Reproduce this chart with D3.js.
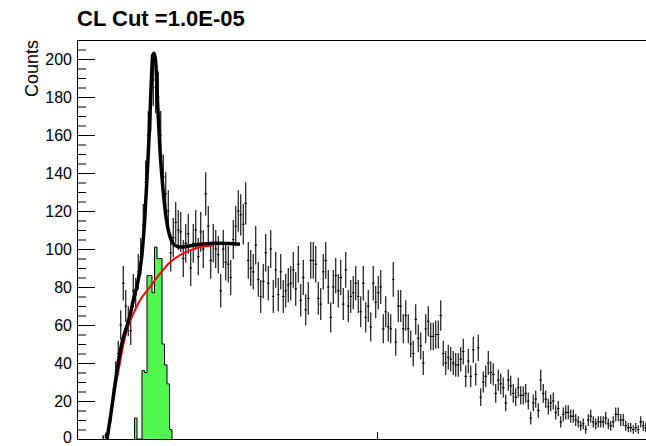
<!DOCTYPE html>
<html>
<head>
<meta charset="utf-8">
<script src="https://cdn.jsdelivr.net/npm/d3@7"></script>
<style>
  body { margin: 0; background: #fff; }
  svg { display: block; font-family: "Liberation Sans", Arial, Helvetica, sans-serif; }
</style>
</head>
<body>
<svg id="chart" width="646" height="446"></svg>
<script>
// ---- chart data ----
const chartTitle = "CL Cut =1.0E-05";
const yAxisTitle = "Counts";
const yTickValues = [0, 20, 40, 60, 80, 100, 120, 140, 160, 180, 200];
const yMinorStep = 5;
const xAxisRange = [0, 240];          // histogram axis, in bin units
const xTickValues = [120];
const yAxisRange = [0, 210];

// measured counts per bin (bin 0 starts at the left edge of the axis)
const counts = [
  0, 0, 0, 0, 0, 0, 0, 0, 0, 0,
  1, 2, 3, 12, 22, 35, 45, 60, 82, 70,
  62, 57, 78, 76, 88, 96, 113, 135, 160, 175,
  189, 185, 180, 160, 138, 129, 120, 98, 106, 114,
  110, 109, 95, 103, 108, 90, 103, 110, 96, 109,
  100, 129, 112, 94, 103, 100, 97, 78, 100, 93,
  92, 85, 105, 112, 120, 118, 113, 124, 94, 90,
  88, 102, 84, 75, 83, 98, 82, 100, 75, 89,
  76, 88, 75, 78, 81, 82, 89, 79, 92, 73,
  85, 68, 74, 94, 94, 92, 74, 71, 88, 94,
  80, 64, 80, 86, 78, 85, 71, 89, 70, 75,
  77, 82, 75, 67, 82, 64, 70, 59, 82, 72,
  77, 80, 58, 67, 59, 58, 84, 51, 70, 70,
  58, 65, 58, 50, 45, 63, 53, 49, 40, 58,
  62, 54, 54, 55, 55, 65, 45, 40, 43, 42,
  40, 39, 39, 42, 46, 33, 41, 33, 47, 34,
  48, 22, 30, 33, 40, 35, 34, 24, 31, 29,
  27, 19, 31, 28, 24, 22, 27, 23, 23, 24,
  20, 11, 19, 21, 15, 31, 24, 21, 17, 19,
  20, 14, 16, 9, 13, 14, 14, 12, 12, 10,
  9, 7, 8, 5, 10, 12, 9, 8, 9, 9,
  9, 11, 8, 7, 9, 13, 13, 10, 10, 7,
  6, 6, 5, 6, 5, 9, 7, 6
];

// signal-region histogram (same binning), first filled bin and its contents
const signalFirstBin = 23;
const signalCounts = [11, 0, 0, 36, 35, 86, 86, 77, 101, 95, 95, 50, 39, 29, 5];

// total fit (signal + background), sampled along the axis
const fitX = [12.0, 13.2, 14.5, 15.9, 17.9, 19.6, 21.2, 22.5, 23.9, 25.9, 27.2, 28.1, 28.9, 29.6, 30.3, 30.9, 31.5, 32.3, 33.2, 34.3, 35.6, 37.2, 39.2, 41.2, 49.2, 57.2, 65.2];
const fitY = [0, 10, 22, 35, 50, 58, 65, 73, 80, 96, 118, 140, 161, 184, 202, 203, 198, 175, 152, 133, 117, 106.5, 102, 101, 102.5, 103, 102.5];

// background component of the fit
const bgX = [12.2, 13.2, 14.5, 16.5, 18.5, 19.9, 21.9, 25.2, 29.2, 33.2, 37.2, 42.5, 49.2, 54.4];
const bgY = [0, 10, 22, 35.4, 49.5, 57, 64, 73, 80, 87, 93, 97.7, 101, 102];

// ---- drawing ----
const svg = d3.select("#chart");
const W = 646;

const x = d3.scaleLinear().domain(xAxisRange).range([77, 677]);
const y = d3.scaleLinear().domain(yAxisRange).range([439, 40]);

const defs = svg.append("defs");
defs.append("clipPath").attr("id", "plotClip")
  .append("rect").attr("x", 77).attr("y", 40).attr("width", W - 77).attr("height", 400);

const plot = svg.append("g").attr("clip-path", "url(#plotClip)");

// signal histogram as a filled step outline
const sigPts = [];
signalCounts.forEach((c, k) => {
  const b = signalFirstBin + k;
  sigPts.push([x(b), y(c)], [x(b + 1), y(c)]);
});
const sigPath = d3.line()([
  [x(signalFirstBin), y(0)], ...sigPts, [x(signalFirstBin + signalCounts.length), y(0)]
]);
plot.append("path").attr("d", sigPath)
  .attr("fill", "#50f850").attr("stroke", "#000").attr("stroke-width", 1);

// data points with statistical error bars
const bins = counts.map((c, i) => ({ i, c })).filter(d => d.c > 0);
const pts = plot.append("g").attr("stroke", "#000").attr("stroke-width", 1.1);
pts.selectAll("line.v").data(bins).join("line").attr("class", "v")
  .attr("x1", d => x(d.i + 0.5)).attr("x2", d => x(d.i + 0.5))
  .attr("y1", d => y(d.c - Math.sqrt(d.c))).attr("y2", d => y(d.c + Math.sqrt(d.c)));
pts.selectAll("line.h").data(bins).join("line").attr("class", "h")
  .attr("x1", d => x(d.i)).attr("x2", d => x(d.i + 1))
  .attr("y1", d => y(d.c)).attr("y2", d => y(d.c));

// fit curves
const curve = d3.line().x(d => x(d[0])).y(d => y(d[1])).curve(d3.curveMonotoneX);
plot.append("path").attr("d", curve(bgX.map((v, k) => [v, bgY[k]])))
  .attr("fill", "none").attr("stroke", "#ff0000").attr("stroke-width", 2);
plot.append("path").attr("d", curve(fitX.map((v, k) => [v, fitY[k]])))
  .attr("fill", "none").attr("stroke", "#000").attr("stroke-width", 3.5)
  .attr("stroke-linejoin", "round");

// frame: top edge and bottom axis
svg.append("line").attr("x1", 77).attr("x2", W).attr("y1", 40.5).attr("y2", 40.5)
  .attr("stroke", "#000").attr("stroke-width", 1);
const xAxis = d3.axisBottom(x).tickValues(xTickValues).tickSizeInner(-7).tickSizeOuter(0).tickFormat("");
svg.append("g").attr("transform", "translate(0,439)").call(xAxis)
  .call(g => g.select(".domain").attr("stroke", "#000"));

// y axis: major and minor ticks drawn inside the frame
const minorVals = d3.range(yAxisRange[0], yAxisRange[1] + 0.01, yMinorStep).filter(v => !yTickValues.includes(v));
svg.append("g").attr("transform", "translate(77,0)")
  .call(d3.axisLeft(y).tickValues(minorVals).tickSizeInner(-9).tickSizeOuter(0).tickFormat(""))
  .call(g => g.select(".domain").remove());
const yAx = svg.append("g").attr("transform", "translate(77,0)")
  .call(d3.axisLeft(y).tickValues(yTickValues).tickSizeInner(-18).tickSizeOuter(0).tickPadding(5));
yAx.selectAll("text").attr("font-size", 16).attr("fill", "#000")
  .attr("font-family", "Liberation Sans, Arial, sans-serif")
  .attr("dy", d => d === 0 ? "0.22em" : "0.32em");

// titles
svg.append("text").attr("x", 77).attr("y", 26)
  .attr("font-size", 22).attr("font-weight", "bold").attr("fill", "#000")
  .text(chartTitle);
svg.append("text").attr("transform", "translate(38,40) rotate(-90)")
  .attr("text-anchor", "end").attr("font-size", 18).attr("fill", "#000")
  .text(yAxisTitle);
</script>
</body>
</html>
